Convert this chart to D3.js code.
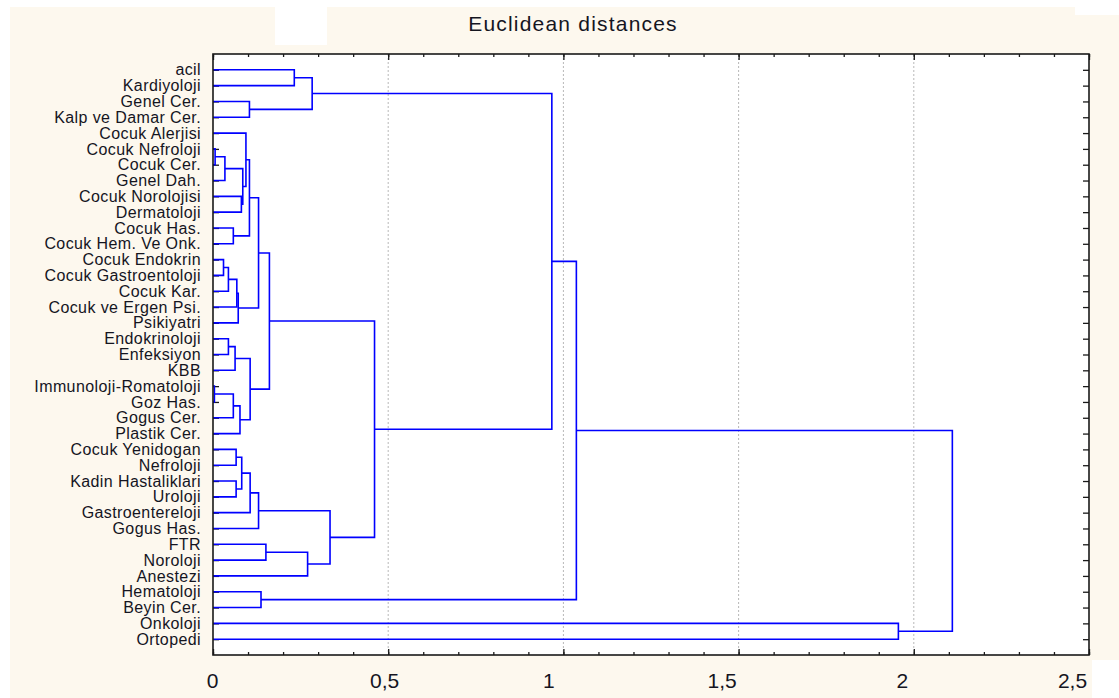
<!DOCTYPE html>
<html>
<head>
<meta charset="utf-8">
<script src="https://cdn.jsdelivr.net/npm/d3@7"></script>
<style>
  body { margin: 0; background: #ffffff; }
  svg { display: block; font-family: "Liberation Sans", Arial, sans-serif; }
</style>
</head>
<body>
<script>
"use strict"

const W = 1119, H = 698;
const plotL = 213, plotR = 1089, plotT = 54, plotB = 655;

// leaves, top to bottom
const leaves = [
	"acil", "Kardiyoloji", "Genel Cer.", "Kalp ve Damar Cer.", "Cocuk Alerjisi",
	"Cocuk Nefroloji", "Cocuk Cer.", "Genel Dah.", "Cocuk Norolojisi", "Dermatoloji",
	"Cocuk Has.", "Cocuk Hem. Ve Onk.", "Cocuk Endokrin", "Cocuk Gastroentoloji", "Cocuk Kar.",
	"Cocuk ve Ergen Psi.", "Psikiyatri", "Endokrinoloji", "Enfeksiyon", "KBB",
	"Immunoloji-Romatoloji", "Goz Has.", "Gogus Cer.", "Plastik Cer.", "Cocuk Yenidogan",
	"Nefroloji", "Kadin Hastaliklari", "Uroloji", "Gastroentereloji", "Gogus Has.",
	"FTR", "Noroloji", "Anestezi", "Hematoloji", "Beyin Cer.",
	"Onkoloji", "Ortopedi"
];

// linkage: node ids 0..36 are leaves, merge k creates node 37+k
const mergeA = [5, 20, 37, 12, 17, 40, 10, 38, 41, 24, 26, 42, 48, 44, 8, 39, 46, 4,
	54, 2, 45, 53, 55, 58, 33, 30, 59, 0, 62, 64, 60, 63, 66, 69, 35, 70];
const mergeB = [6, 21, 7, 13, 18, 14, 11, 22, 19, 25, 27, 15, 16, 23, 9, 51, 47, 52,
	43, 3, 50, 28, 49, 29, 34, 31, 57, 1, 32, 56, 65, 67, 68, 61, 36, 71];
const mergeDist = [0.006, 0.004, 0.034, 0.030, 0.044, 0.044, 0.058, 0.058, 0.063, 0.066,
	0.066, 0.068, 0.072, 0.077, 0.081, 0.085, 0.082, 0.094, 0.104, 0.104, 0.106, 0.106,
	0.130, 0.130, 0.137, 0.151, 0.161, 0.232, 0.270, 0.283, 0.334, 0.461, 0.967, 1.037,
	1.956, 2.110];

const xTicks = [0, 0.5, 1, 1.5, 2, 2.5];
const xTickLabels = ["0", "0,5", "1", "1,5", "2", "2,5"];
const xLabelShift = [-1, -4, -15, -17, -12, -17];

const svg = d3.select("body").append("svg")
	.attr("width", W)
	.attr("height", H);

// background patches
svg.append("rect").attr("width", W).attr("height", H).attr("fill", "#fdf8ee");
[[0, 0, W, 7], [0, 0, 10, H], [275, 0, 52, 45], [1075, 0, 44, 15], [1092, 660, 27, 38]]
	.forEach(r => svg.append("rect")
		.attr("x", r[0]).attr("y", r[1]).attr("width", r[2]).attr("height", r[3])
		.attr("fill", "#ffffff"));

svg.append("rect")
	.attr("x", plotL).attr("y", plotT)
	.attr("width", plotR - plotL).attr("height", plotB - plotT)
	.attr("fill", "#ffffff");

const x = d3.scaleLinear().domain([0, 2.5]).range([plotL, plotR]);
const y = d3.scalePoint().domain(leaves).range([plotT, plotB]).padding(1);

// grid
svg.append("g")
	.selectAll("line")
	.data(xTicks.slice(1, -1))
	.join("line")
	.attr("x1", d => x(d)).attr("x2", d => x(d))
	.attr("y1", plotT).attr("y2", plotB)
	.attr("stroke", "#b8b8b8")
	.attr("stroke-width", 1)
	.attr("stroke-dasharray", "2,2");

// node positions
const nodeX = leaves.map(() => 0);
const nodeY = leaves.map(d => y(d));
mergeDist.forEach((d, k) => {
	nodeX.push(d);
	nodeY.push((nodeY[mergeA[k]] + nodeY[mergeB[k]]) / 2);
});

// axes
const minor = d3.range(0, 2.501, 0.1);

function styleAxis(g) {
	g.select(".domain").remove();
	g.selectAll(".tick line").attr("stroke", "#1a1a1a").attr("stroke-width", 1.3);
}

svg.append("g")
	.attr("transform", "translate(0," + plotB + ")")
	.call(d3.axisBottom(x).tickValues(minor).tickSize(-3).tickFormat(""))
	.call(styleAxis);

svg.append("g")
	.attr("transform", "translate(0," + plotB + ")")
	.call(d3.axisBottom(x).tickValues(xTicks).tickSize(-6).tickPadding(18)
		.tickFormat((d, i) => xTickLabels[i]))
	.call(styleAxis)
	.call(g => g.selectAll("text")
		.attr("dx", (d, i) => xLabelShift[i])
		.attr("fill", "#15151f")
		.style("font-size", "21px")
		.style("font-family", "Liberation Sans, Arial, sans-serif"));

svg.append("g")
	.attr("transform", "translate(0," + plotT + ")")
	.call(d3.axisTop(x).tickValues(minor).tickSize(-3).tickFormat(""))
	.call(styleAxis);

svg.append("g")
	.attr("transform", "translate(0," + plotT + ")")
	.call(d3.axisTop(x).tickValues(xTicks).tickSize(-6).tickFormat(""))
	.call(styleAxis);

svg.append("g")
	.attr("transform", "translate(" + plotL + ",0)")
	.call(d3.axisLeft(y).tickSize(-6).tickPadding(12))
	.call(styleAxis)
	.call(g => g.selectAll("text")
		.attr("fill", "#15151f")
		.style("font-size", "16px")
		.style("letter-spacing", "0.4px")
		.style("font-family", "Liberation Sans, Arial, sans-serif"));

svg.append("g")
	.attr("transform", "translate(" + plotR + ",0)")
	.call(d3.axisRight(y).tickSize(-6).tickFormat(""))
	.call(styleAxis);

// dendrogram links
svg.append("g")
	.selectAll("path")
	.data(mergeDist)
	.join("path")
	.attr("d", (d, k) => {
		const a = mergeA[k], b = mergeB[k];
		return "M" + x(nodeX[a]) + "," + nodeY[a] +
			"H" + x(d) + "V" + nodeY[b] + "H" + x(nodeX[b]);
	})
	.attr("fill", "none")
	.attr("stroke", "#0000ff")
	.attr("stroke-width", 1.6);

svg.append("rect")
	.attr("x", plotL).attr("y", plotT)
	.attr("width", plotR - plotL).attr("height", plotB - plotT)
	.attr("fill", "none")
	.attr("stroke", "#1a1a1a")
	.attr("stroke-width", 1.6);

svg.append("text")
	.attr("x", 573)
	.attr("y", 31)
	.attr("text-anchor", "middle")
	.attr("fill", "#15151f")
	.style("font-size", "21px")
	.style("letter-spacing", "1.2px")
	.text("Euclidean distances");
</script>
</body>
</html>
